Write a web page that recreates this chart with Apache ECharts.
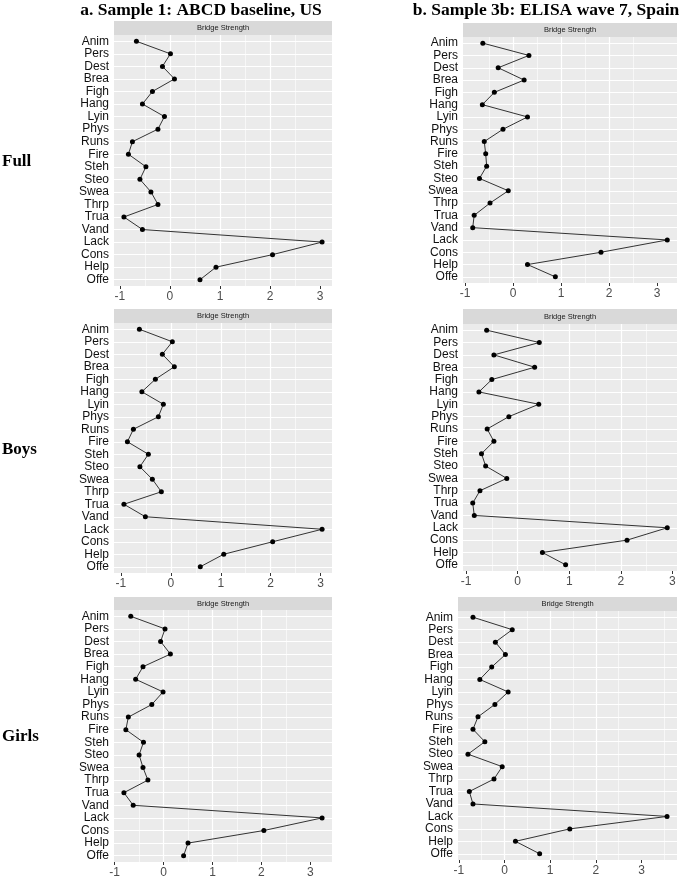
<!DOCTYPE html>
<html>
<head>
<meta charset="utf-8">
<script src="https://cdn.jsdelivr.net/npm/echarts@6/dist/echarts.min.js"></script>
<style>
html, body { margin: 0; padding: 0; background: #fff; }
#chart1 { width: 685px; height: 876px; }
</style>
</head>
<body>
<div id="chart1"></div>
<script>
var items = ['Anim', 'Pers', 'Dest', 'Brea', 'Figh', 'Hang', 'Lyin', 'Phys', 'Runs', 'Fire',
             'Steh', 'Steo', 'Swea', 'Thrp', 'Trua', 'Vand', 'Lack', 'Cons', 'Help', 'Offe'];

// bridge strength
var fullUS     = [-0.67, 0.01, -0.15, 0.09, -0.35, -0.55, -0.11, -0.24, -0.75, -0.83, -0.48, -0.60, -0.38, -0.24, -0.92, -0.55, 3.04, 2.05, 0.92, 0.60];
var boysUS     = [-0.63, 0.03, -0.17, 0.07, -0.31, -0.58, -0.15, -0.25, -0.75, -0.87, -0.45, -0.62, -0.37, -0.19, -0.94, -0.51, 3.03, 2.04, 1.06, 0.59];
var girlsUS    = [-0.67, 0.03, -0.06, 0.14, -0.42, -0.57, -0.01, -0.24, -0.72, -0.77, -0.41, -0.50, -0.42, -0.32, -0.81, -0.62, 3.24, 2.05, 0.50, 0.41];
var fullSpain  = [-0.63, 0.33, -0.31, 0.23, -0.39, -0.64, 0.30, -0.21, -0.60, -0.57, -0.55, -0.70, -0.10, -0.48, -0.81, -0.84, 3.21, 1.83, 0.30, 0.88];
var boysSpain  = [-0.60, 0.42, -0.46, 0.33, -0.50, -0.75, 0.41, -0.17, -0.59, -0.46, -0.70, -0.62, -0.21, -0.73, -0.87, -0.84, 2.90, 2.12, 0.48, 0.93];
var girlsSpain = [-0.69, 0.17, -0.20, 0.02, -0.28, -0.54, 0.08, -0.21, -0.58, -0.69, -0.43, -0.80, -0.05, -0.23, -0.77, -0.69, 3.56, 1.43, 0.24, 0.77];

var xTicks = [-1, 0, 1, 2, 3];
var columnTitles = ['a. Sample 1: ABCD baseline, US', 'b. Sample 3b: ELISA wave 7, Spain'];
var rowTitles = ['Full', 'Boys', 'Girls'];
var stripText = 'Bridge Strength';

var panelSeries = [fullUS, boysUS, girlsUS, fullSpain, boysSpain, girlsSpain];

// panel boxes (plot area), strip sits on top of each
var boxes = [
    {left: 114, top: 35,  width: 218, height: 251, stripTop: 21},
    {left: 114, top: 323, width: 218, height: 250, stripTop: 309},
    {left: 114, top: 610, width: 218, height: 252, stripTop: 597},
    {left: 463, top: 37,  width: 214, height: 246, stripTop: 23},
    {left: 463, top: 324, width: 214, height: 247, stripTop: 309},
    {left: 458, top: 611, width: 219, height: 249, stripTop: 597}
];

var dom = document.getElementById('chart1');
var myChart = echarts.init(dom, null, {renderer: 'canvas'});

var grids = [], xAxes = [], yAxes = [], series = [], graphics = [];

panelSeries.forEach(function (vals, i) {
    var b = boxes[i];
    // ggplot style 5% padding on the continuous axis
    var lo = Math.min.apply(null, vals), hi = Math.max.apply(null, vals);
    var pad = (hi - lo) * 0.05;

    grids.push({
        left: b.left, top: b.top, width: b.width, height: b.height,
        show: true, backgroundColor: '#EBEBEB', borderWidth: 0,
        containLabel: false, outerBoundsMode: 'none'
    });

    xAxes.push({
        type: 'value', gridIndex: i,
        min: lo - pad, max: hi + pad, splitNumber: 4,
        axisLine: {show: false},
        axisTick: {show: true, length: 3, lineStyle: {color: '#333', width: 1}, customValues: xTicks},
        axisLabel: {color: '#4D4D4D', fontSize: 12, fontFamily: 'Liberation Sans, Arial', margin: 5, customValues: xTicks},
        splitLine: {show: true, showMinLine: false, showMaxLine: false, lineStyle: {color: '#fff', width: 1.2}},
        minorTick: {show: false, splitNumber: 2},
        minorSplitLine: {show: true, lineStyle: {color: '#fff', width: 0.6}}
    });

    yAxes.push({
        type: 'category', gridIndex: i, data: items, inverse: true,
        axisLine: {show: false},
        axisTick: {show: true, alignWithLabel: true, length: 3, lineStyle: {color: '#333', width: 1}},
        axisLabel: {color: '#111', fontSize: 12, fontFamily: 'Liberation Sans, Arial', margin: 5, interval: 0},
        splitLine: {show: false}
    });

    series.push({
        type: 'line', xAxisIndex: i, yAxisIndex: i, data: vals, z: 3,
        symbol: 'circle', symbolSize: 5, showSymbol: true, showAllSymbol: true,
        itemStyle: {color: '#000'},
        lineStyle: {color: '#333', width: 1},
        markLine: {
            silent: true, symbol: 'none', z: 1, animation: false,
            label: {show: false},
            lineStyle: {color: '#fff', width: 1.2, type: 'solid'},
            data: items.map(function (n) { return {yAxis: n}; })
        }
    });

    graphics.push({
        type: 'rect', shape: {x: b.left, y: b.stripTop, width: b.width, height: b.top - b.stripTop},
        style: {fill: '#D9D9D9'}, silent: true
    });
    graphics.push({
        type: 'text', x: b.left + b.width / 2, y: (b.stripTop + b.top) / 2,
        style: {text: stripText, fontSize: 7.5, fontFamily: 'Liberation Sans, Arial', fill: '#1A1A1A',
                textAlign: 'center', align: 'center', textVerticalAlign: 'middle', verticalAlign: 'middle'},
        silent: true
    });
});

var colCenters = [201, 546];
columnTitles.forEach(function (t, c) {
    graphics.push({
        type: 'text', x: colCenters[c], y: 10,
        style: {text: t, fontSize: 17.5, fontWeight: 'bold', fontFamily: 'Liberation Serif, Times New Roman', fill: '#000',
                textAlign: 'center', align: 'center', textVerticalAlign: 'middle', verticalAlign: 'middle'}
    });
});

var rowCenters = [162, 450, 737];
rowTitles.forEach(function (t, r) {
    graphics.push({
        type: 'text', x: 2, y: rowCenters[r],
        style: {text: t, fontSize: 17, fontWeight: 'bold', fontFamily: 'Liberation Serif, Times New Roman', fill: '#000',
                textAlign: 'left', align: 'left', textVerticalAlign: 'middle', verticalAlign: 'middle'}
    });
});

option = {
    animation: false,
    backgroundColor: '#fff',
    grid: grids,
    xAxis: xAxes,
    yAxis: yAxes,
    series: series,
    graphic: graphics
};

myChart.setOption(option, true);
</script>
</body>
</html>
